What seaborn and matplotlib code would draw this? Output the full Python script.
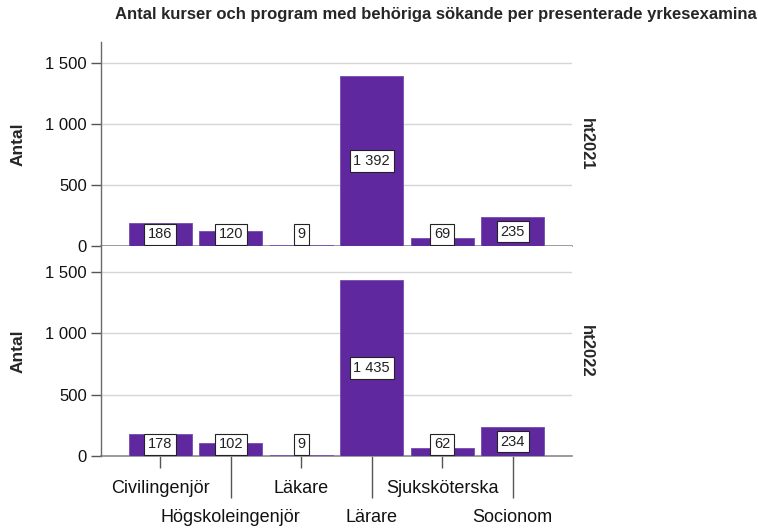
import matplotlib
matplotlib.use("Agg")
import matplotlib.pyplot as plt
import seaborn as sns
import pandas as pd

sns.set_style("white")
plt.rcParams["font.family"] = ["Liberation Sans", "DejaVu Sans"]

# Data
categories = ["Civilingenjör", "Högskoleingenjör", "Läkare", "Lärare",
              "Sjuksköterska", "Socionom"]
terms = ["ht2021", "ht2022"]
values_ht2021 = [186, 120, 9, 1392, 69, 235]
values_ht2022 = [178, 102, 9, 1435, 62, 234]
yticks = [0, 500, 1000, 1500]

df = pd.DataFrame({
    "kategori": categories * 2,
    "termin": [terms[0]] * len(categories) + [terms[1]] * len(categories),
    "antal": values_ht2021 + values_ht2022,
})

PURPLE = "#60289e"
W, H = 758, 529
fig = plt.figure(figsize=(W / 100, H / 100), dpi=100)


def fx(px):
    return px / W


def fy(py):
    return 1 - py / H


# panel rectangles in pixel coordinates: (left, top, right, bottom)
panels = [(101, 42, 572, 246), (101, 246, 572, 456)]
ylims = [(0, 1670), (0, 1712)]
xlim = (-0.842, 5.842)

fig.text(fx(436), fy(15), "Antal kurser och program med behöriga sökande per presenterade yrkesexamina",
         ha="center", va="center", fontsize=12, fontweight="bold")


def fmt(v):
    return f"{v:,}".replace(",", " ")


for i, term in enumerate(terms):
    l, t, r, b = panels[i]
    ax = fig.add_axes([fx(l), fy(b), fx(r - l), (b - t) / H])
    sub = df[df["termin"] == term]
    sns.barplot(data=sub, x="kategori", y="antal", order=categories,
                color=PURPLE, saturation=1, width=0.89, ax=ax,
                edgecolor="#7d55b3", linewidth=0.7, errorbar=None, zorder=3)
    ax.set_xlim(*xlim)
    ax.set_ylim(*ylims[i])
    ax.set_yticks(yticks)
    ax.set_yticklabels([fmt(v) for v in yticks], fontsize=12, color="#111111")
    ax.tick_params(axis="y", left=True, length=7, width=1, color="#555555", pad=3)
    ax.grid(axis="y", color="#d6d6d6", linewidth=1, zorder=0)
    ax.set_axisbelow(True)
    for s in ["top", "right"]:
        ax.spines[s].set_visible(False)
    ax.spines["left"].set_color("#6a6a6a")
    ax.spines["left"].set_linewidth(1)
    ax.spines["bottom"].set_color("#8a8a8a")
    ax.spines["bottom"].set_linewidth(1.2)
    ax.spines["bottom"].set_zorder(2)
    ax.set_ylabel("")
    ax.set_xlabel("")
    ax.text(-(l - 18) / (r - l), 0.5, "Antal", transform=ax.transAxes,
            rotation=90, ha="center", va="center", fontsize=12.5,
            fontweight="bold")
    ax.text(1 + (586 - r) / (r - l), 0.5, term, transform=ax.transAxes,
            rotation=-90, ha="center", va="center", fontsize=12,
            fontweight="bold")

    # value labels in boxes
    vals = sub["antal"].tolist()
    for k, v in enumerate(vals):
        ypos = max(v / 2, 95)
        ax.text(k, ypos, fmt(v), ha="center", va="center", fontsize=10.5,
                color="#222222", zorder=6,
                bbox=dict(boxstyle="square,pad=0.25", facecolor="white",
                          edgecolor="#222222", linewidth=0.8))

    if i == 0:
        ax.set_xticks([])
        ax.tick_params(axis="x", length=0)
    else:
        major = [0, 2, 4]
        minor = [1, 3, 5]
        ax.set_xticks(major)
        ax.set_xticklabels([categories[k] for k in major], fontsize=13,
                           color="#111111")
        ax.set_xticks(minor, minor=True)
        ax.set_xticklabels([categories[k] for k in minor], minor=True,
                           fontsize=13, color="#111111")
        ax.tick_params(axis="x", which="major", bottom=True, length=8.6,
                       width=1, color="#555555", pad=8.5)
        ax.tick_params(axis="x", which="minor", bottom=True, length=30,
                       width=1, color="#555555", pad=8)

fig.savefig("out.png", dpi=100)
